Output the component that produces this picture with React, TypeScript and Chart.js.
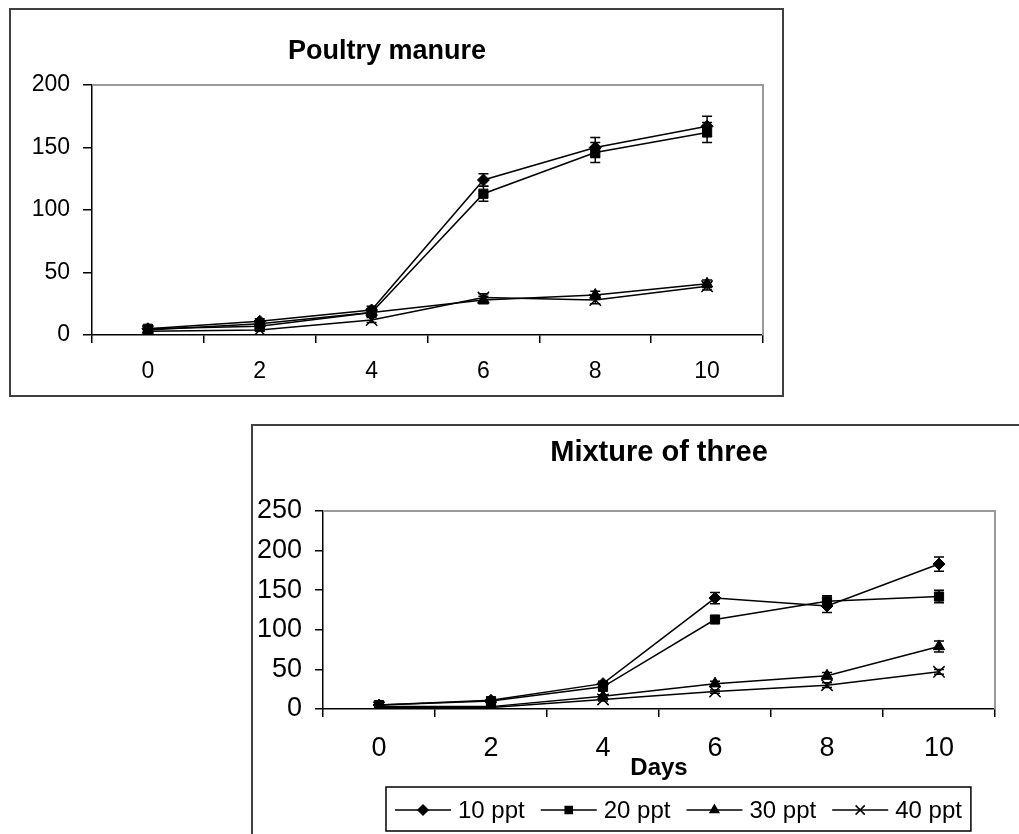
import React, { useEffect, useRef } from 'react';
import { Chart, registerables } from 'chart.js';
import { drawPoint } from 'chart.js/helpers';

Chart.register(...registerables);

const FONT = "'Liberation Sans', Arial, sans-serif";

// Categories (days)
const days = ['0', '2', '4', '6', '8', '10'];
const seriesLabels = ['10 ppt', '20 ppt', '30 ppt', '40 ppt'];
const pointStyles = ['rectRot', 'rect', 'triangle', 'crossRot'];
const pointSizes = [6, 6.5, 6.5, 8];
const pointBorders = [1, 1, 1, 1.5];

// Poultry manure
const poultry10 = [5, 11, 20, 124, 150, 167];
const poultry20 = [5, 7, 18, 113, 146, 162];
const poultry30 = [4, 9, 18, 28, 32, 41];
const poultry40 = [3, 4, 12, 30, 28, 39];
const poultry10Err = [2, 2, 3, 5, 8, 8];
const poultry20Err = [2, 2, 3, 6, 8, 8];
const poultry30Err = [2, 2, 2, 3, 3, 3];
const poultry40Err = [1, 1, 2, 3, 3, 3];
const poultryYTicks = [0, 50, 100, 150, 200];

// Mixture of three
const mix10 = [5, 11, 32, 140, 130, 183];
const mix20 = [5, 10, 28, 113, 136, 142];
const mix30 = [3, 3, 16, 32, 42, 79];
const mix40 = [2, 2, 12, 22, 30, 47];
const mix10Err = [3, 2, 3, 7, 8, 9];
const mix20Err = [3, 2, 3, 4, 7, 8];
const mix30Err = [1, 1, 2, 3, 4, 7];
const mix40Err = [1, 1, 2, 2, 3, 3];
const mixYTicks = [0, 50, 100, 150, 200, 250];

const errorBarPlugin = {
  id: 'errorBars',
  afterDatasetsDraw(chart: any) {
    const ctx = chart.ctx;
    const ys = chart.scales.y;
    chart.data.datasets.forEach((ds: any, i: number) => {
      const errs = ds.errors;
      if (!errs) return;
      const meta = chart.getDatasetMeta(i);
      ctx.save();
      ctx.strokeStyle = '#000';
      ctx.lineWidth = 1.5;
      meta.data.forEach((pt: any, j: number) => {
        const v = ds.data[j];
        const e = errs[j];
        if (!e) return;
        const x = pt.x;
        const y1 = ys.getPixelForValue(v + e);
        const y2 = ys.getPixelForValue(v - e);
        ctx.beginPath();
        ctx.moveTo(x, y1);
        ctx.lineTo(x, y2);
        ctx.moveTo(x - 5, y1);
        ctx.lineTo(x + 5, y1);
        ctx.moveTo(x - 5, y2);
        ctx.lineTo(x + 5, y2);
        ctx.stroke();
      });
      ctx.restore();
    });
  },
};

const framePlugin = {
  id: 'plotFrame',
  beforeDatasetsDraw(chart: any) {
    const { ctx, chartArea } = chart;
    ctx.save();
    ctx.strokeStyle = '#9a9a9a';
    ctx.lineWidth = 2;
    ctx.beginPath();
    ctx.moveTo(chartArea.left, chartArea.top);
    ctx.lineTo(chartArea.right, chartArea.top);
    ctx.lineTo(chartArea.right, chartArea.bottom);
    ctx.stroke();
    ctx.restore();
  },
};

const boxLegendPlugin = {
  id: 'boxLegend',
  afterDraw(chart: any, _args: any, opts: any) {
    if (!opts || !opts.show) return;
    const { ctx } = chart;
    ctx.save();
    ctx.font = `${opts.fontSize}px ${FONT}`;
    ctx.textBaseline = 'middle';
    ctx.textAlign = 'left';
    ctx.fillStyle = '#000';
    ctx.strokeStyle = '#000';
    let x = opts.left;
    const cy = opts.centerY;
    chart.data.datasets.forEach((ds: any) => {
      ctx.lineWidth = 1.5;
      ctx.beginPath();
      ctx.moveTo(x, cy);
      ctx.lineTo(x + opts.lineLen, cy);
      ctx.stroke();
      ctx.fillStyle = '#000';
      const r = ds.pointStyle === 'crossRot' ? opts.markerRadius + 1.5 : opts.markerRadius;
      drawPoint(ctx, { pointStyle: ds.pointStyle, radius: r, rotation: 0, borderWidth: 1.2 }, x + opts.lineLen / 2, cy);
      ctx.fillStyle = '#000';
      const tx = x + opts.lineLen + opts.textGap;
      ctx.fillText(ds.label, tx, cy + 1);
      const w = ctx.measureText(ds.label).width;
      x = tx + w + opts.itemGap;
    });
    const right = x - opts.itemGap + opts.padRight;
    ctx.lineWidth = 1.5;
    ctx.strokeRect(opts.boxLeft, opts.boxTop, right - opts.boxLeft, opts.boxHeight);
    ctx.restore();
  },
};

function makeDatasets(values: number[][], errs: number[][]) {
  return values.map((vals, i) => ({
    label: seriesLabels[i],
    data: vals,
    errors: errs[i],
    borderColor: '#000',
    borderWidth: 1.5,
    backgroundColor: '#000',
    pointStyle: pointStyles[i],
    pointRadius: pointSizes[i],
    pointBackgroundColor: '#000',
    pointBorderColor: '#000',
    pointBorderWidth: pointBorders[i],
    tension: 0,
    fill: false,
  }));
}

function makeOptions(cfg: any) {
  return {
    responsive: false,
    animation: false,
    events: [],
    layout: { padding: cfg.layoutPadding },
    plugins: {
      legend: { display: false },
      tooltip: { enabled: false },
      title: {
        display: true,
        text: cfg.title,
        color: '#000',
        fullSize: cfg.titleFullSize,
        font: { family: FONT, size: cfg.titleSize, weight: 'bold' },
        padding: cfg.titlePadding,
      },
      boxLegend: cfg.legend || { show: false },
    },
    scales: {
      x: {
        type: 'category',
        offset: true,
        grid: {
          offset: true,
          drawOnChartArea: false,
          drawTicks: true,
          tickLength: 8,
          color: '#000',
          lineWidth: 1.5,
        },
        border: { color: '#000', width: 1.5 },
        ticks: {
          color: '#000',
          font: { family: FONT, size: cfg.tickSize },
          padding: cfg.xTickPadding,
          maxRotation: 0,
          autoSkip: false,
        },
        title: cfg.xTitle
          ? {
              display: true,
              text: cfg.xTitle,
              color: '#000',
              font: { family: FONT, size: cfg.xTitleSize, weight: 'bold' },
              padding: 0,
            }
          : { display: false },
        afterFit: (s: any) => {
          s.height = cfg.xHeight;
        },
      },
      y: {
        min: 0,
        max: cfg.yMax,
        grid: {
          drawOnChartArea: false,
          drawTicks: true,
          tickLength: cfg.yTickLen,
          color: '#000',
          lineWidth: 1.5,
        },
        border: { color: '#000', width: 1.5 },
        ticks: {
          color: '#000',
          font: { family: FONT, size: cfg.tickSize },
          padding: 13,
        },
        afterBuildTicks: (s: any) => {
          s.ticks = cfg.yTicks.map((v: number) => ({ value: v }));
        },
        afterFit: (s: any) => {
          s.width = cfg.yWidth;
        },
      },
    },
  };
}

export default function App() {
  const ref1 = useRef<HTMLCanvasElement>(null);
  const ref2 = useRef<HTMLCanvasElement>(null);

  useEffect(() => {
    const c1 = new Chart(ref1.current as HTMLCanvasElement, {
      type: 'line',
      data: {
        labels: days,
        datasets: makeDatasets(
          [poultry10, poultry20, poultry30, poultry40],
          [poultry10Err, poultry20Err, poultry30Err, poultry40Err]
        ) as any,
      },
      options: makeOptions({
        title: 'Poultry manure',
        titleSize: 27,
        titleFullSize: true,
        titlePadding: { top: 25.8, bottom: 16.8 },
        layoutPadding: { left: 0, right: 19, top: 0, bottom: 0 },
        tickSize: 23,
        xTickPadding: 15.2,
        xHeight: 60,
        yMax: 200,
        yTicks: poultryYTicks,
        yTickLen: 9,
        yWidth: 81,
      }) as any,
      plugins: [framePlugin, errorBarPlugin, boxLegendPlugin],
    });

    const c2 = new Chart(ref2.current as HTMLCanvasElement, {
      type: 'line',
      data: {
        labels: days,
        datasets: makeDatasets(
          [mix10, mix20, mix30, mix40],
          [mix10Err, mix20Err, mix30Err, mix40Err]
        ) as any,
      },
      options: makeOptions({
        title: 'Mixture of three',
        titleSize: 29,
        titleFullSize: false,
        titlePadding: { top: 9.6, bottom: 40.6 },
        layoutPadding: { left: 0, right: 24, top: 0, bottom: 51.6 },
        tickSize: 27,
        xTickPadding: 15.8,
        xHeight: 73.4,
        xTitle: 'Days',
        xTitleSize: 24,
        yMax: 250,
        yTicks: mixYTicks,
        yTickLen: 8,
        yWidth: 70,
        legend: {
          show: true,
          fontSize: 24,
          left: 142,
          centerY: 384,
          lineLen: 56,
          textGap: 7,
          itemGap: 16,
          markerRadius: 5,
          padRight: 9,
          boxLeft: 133,
          boxTop: 361,
          boxHeight: 44,
        },
      }) as any,
      plugins: [framePlugin, errorBarPlugin, boxLegendPlugin],
    });

    return () => {
      c1.destroy();
      c2.destroy();
    };
  }, []);

  return (
    <div
      style={{
        position: 'fixed',
        left: 0,
        top: 0,
        width: 1019,
        height: 834,
        overflow: 'hidden',
        background: '#fff',
      }}
    >
      <div
        style={{
          position: 'absolute',
          left: 9,
          top: 8,
          width: 775,
          height: 389,
          border: '2px solid #404040',
          boxSizing: 'border-box',
        }}
      >
        <canvas ref={ref1} width={771} height={385} style={{ display: 'block' }} />
      </div>
      <div
        style={{
          position: 'absolute',
          left: 251,
          top: 424,
          width: 800,
          height: 450,
          border: '2px solid #404040',
          boxSizing: 'border-box',
        }}
      >
        <canvas ref={ref2} width={766} height={408} style={{ display: 'block' }} />
      </div>
    </div>
  );
}
